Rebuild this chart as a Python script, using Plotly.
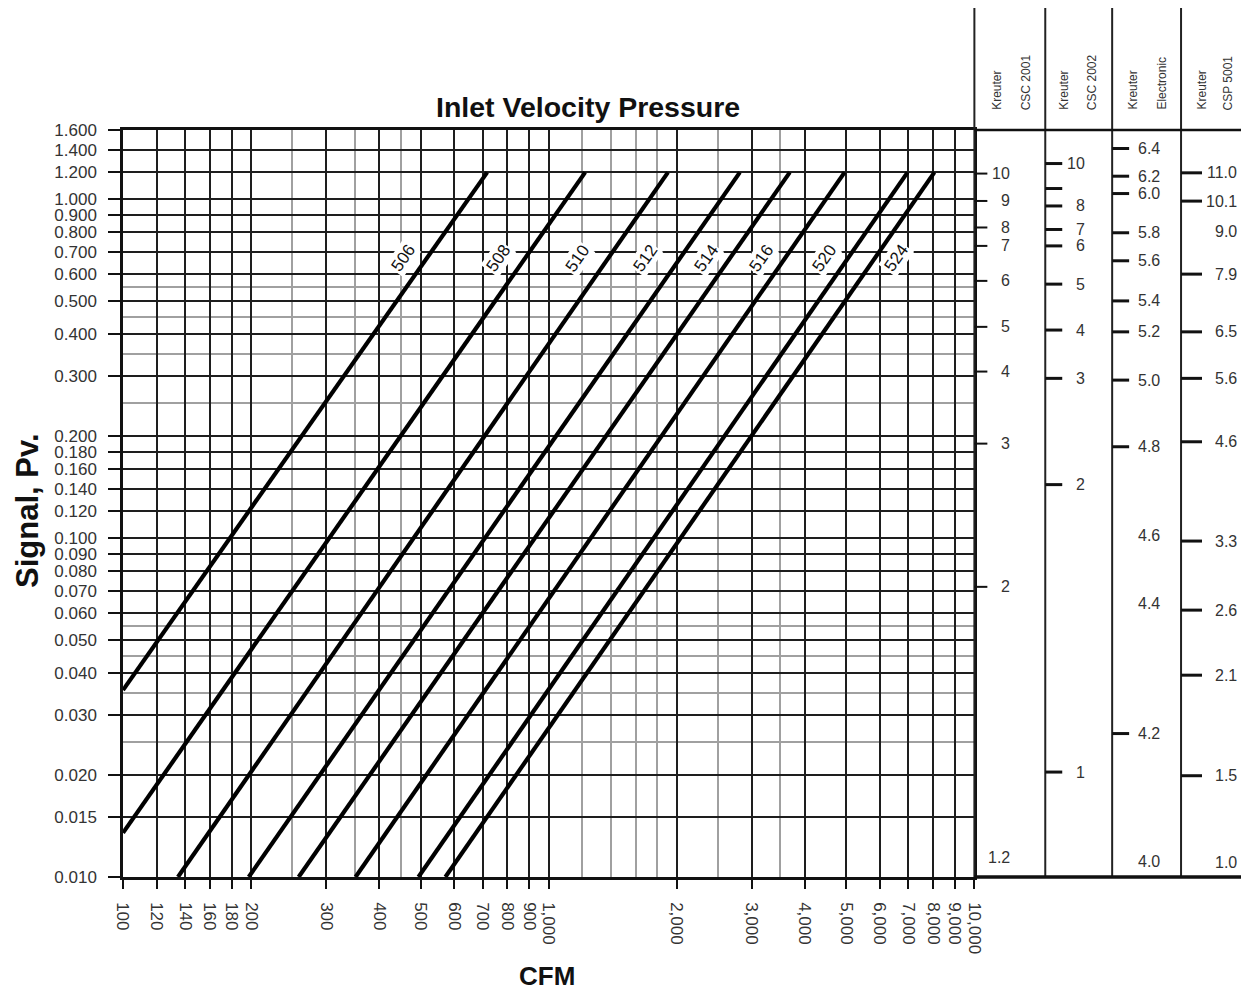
import math
import plotly.graph_objects as go

# ---------------- data ----------------
cfm_tickvals = [100, 120, 140, 160, 180, 200, 300, 400, 500, 600, 700, 800, 900,
                1000, 2000, 3000, 4000, 5000, 6000, 7000, 8000, 9000, 10000]
cfm_ticktext = ["100", "120", "140", "160", "180", "200", "300", "400", "500", "600",
                "700", "800", "900", "1,000", "2,000", "3,000", "4,000", "5,000",
                "6,000", "7,000", "8,000", "9,000", "10,000"]
cfm_minor = [250, 350, 450, 1200, 1400, 1600, 1800, 2500, 3500]

pv_tickvals = [0.010, 0.015, 0.020, 0.030, 0.040, 0.050, 0.060, 0.070, 0.080, 0.090,
               0.100, 0.120, 0.140, 0.160, 0.180, 0.200, 0.300, 0.400, 0.500, 0.600,
               0.700, 0.800, 0.900, 1.000, 1.200, 1.400, 1.600]
pv_ticktext = ["0.010", "0.015", "0.020", "0.030", "0.040", "0.050", "0.060", "0.070",
               "0.080", "0.090", "0.100", "0.120", "0.140", "0.160", "0.180", "0.200",
               "0.300", "0.400", "0.500", "0.600", "0.700", "0.800", "0.900", "1.000",
               "1.200", "1.400", "1.600"]
pv_minor = [0.025, 0.035, 0.045, 0.055, 0.25, 0.35, 0.45, 0.55]

box_sizes = ["506", "508", "510", "512", "514", "516", "520", "524"]
cfm_start = [100, 100, 134.6, 197.4, 258.6, 351.8, 494.3, 571.9]
pv_start = [0.0356, 0.0135, 0.010, 0.010, 0.010, 0.010, 0.010, 0.010]
cfm_end = [717, 1218, 1906, 2812, 3684, 4955, 6966, 8054]
pv_end = [1.2, 1.2, 1.2, 1.2, 1.2, 1.2, 1.2, 1.2]

scale_headers = [("Kreuter", "CSC 2001"), ("Kreuter", "CSC 2002"),
                 ("Kreuter", "Electronic"), ("Kreuter", "CSP 5001")]

csc2001_text = ["10", "9", "8", "7", "6", "5", "4", "3", "2", "1.2"]
csc2001_pv = [1.190, 0.988, 0.825, 0.728, 0.574, 0.420, 0.310, 0.190, 0.0718, 0.0114]
csc2001_tick = [True, True, True, True, True, True, True, True, True, False]

csc2002_text = ["10", "", "8", "7", "6", "5", "4", "3", "2", "1"]
csc2002_pv = [1.274, 1.075, 0.955, 0.814, 0.728, 0.5615, 0.411, 0.296, 0.1438, 0.0204]
csc2002_tick = [True, True, True, True, True, True, True, True, True, True]

electronic_text = ["6.4", "6.2", "6.0", "5.8", "5.6", "5.4", "5.2", "5.0", "4.8",
                   "4.6", "4.4", "4.2", "4.0"]
electronic_pv = [1.411, 1.169, 1.039, 0.796, 0.658, 0.501, 0.406, 0.2925, 0.186,
                 0.1020, 0.0642, 0.0265, 0.0111]
electronic_tick = [True, True, True, True, True, True, True, True, True,
                   False, False, True, False]

csp5001_text = ["11.0", "10.1", "9.0", "7.9", "6.5", "5.6", "4.6", "3.3", "2.6",
                "2.1", "1.5", "1.0"]
csp5001_pv = [1.196, 0.987, 0.801, 0.601, 0.406, 0.296, 0.1924, 0.0980, 0.0613,
              0.0394, 0.0199, 0.0110]
csp5001_tick = [True, True, False, True, True, True, True, True, True, True, True, False]

scales = [(csc2001_text, csc2001_pv, csc2001_tick),
          (csc2002_text, csc2002_pv, csc2002_tick),
          (electronic_text, electronic_pv, electronic_tick),
          (csp5001_text, csp5001_pv, csp5001_tick)]

# ---------------- layout helpers ----------------
OFF = 8                         # browser body margin
SX = 1257 / 1249                # horizontal compensation of the capture
W, H = 1241, 985
PLOT_L, PLOT_T, PLOT_R, PLOT_B = 122, 130, 975, 877   # target pixels of plot area
ML = round(PLOT_L * SX - OFF)
MT = PLOT_T - OFF
MR = 0
MB = H - (PLOT_B - OFF)
FONT = "Liberation Sans, Arial, Helvetica, sans-serif"


def px(x):
    """target x pixel -> paper fraction"""
    return (x * SX - OFF - ML) / (W - ML - MR)


def py(y):
    """target y pixel -> paper fraction"""
    return (PLOT_B - y) / (PLOT_B - PLOT_T)


fig = go.Figure()

# box lines
for name, x0, y0, x1, y1 in zip(box_sizes, cfm_start, pv_start, cfm_end, pv_end):
    fig.add_trace(go.Scatter(x=[x0, x1], y=[y0, y1], mode="lines", name=name,
                             line=dict(color="black", width=4.2),
                             showlegend=False, hoverinfo="skip"))

annotations = []
shapes = []

# line labels (placed beside each line, rotated along it)
label_pv = 0.67
label_shift = [-24, -27, -31, -35, -24, -24, -24, 21]
for name, x0, y0, x1, y1, sh in zip(box_sizes, cfm_start, pv_start, cfm_end, pv_end, label_shift):
    t = (math.log10(label_pv) - math.log10(y0)) / (math.log10(y1) - math.log10(y0))
    lx = math.log10(x0) + t * (math.log10(x1) - math.log10(x0))
    annotations.append(dict(x=lx, y=math.log10(label_pv), xref="x", yref="y",
                            text=name, showarrow=False, textangle=-55,
                            xshift=sh,
                            bgcolor="white", borderpad=1,
                            font=dict(family=FONT, size=17, color="#111")))

# titles
annotations.append(dict(x=px(588), y=py(107), xref="paper", yref="paper",
                        text="<b>Inlet Velocity Pressure</b>", showarrow=False,
                        xanchor="center", yanchor="middle",
                        font=dict(family=FONT, size=28.5, color="#111")))
annotations.append(dict(x=px(26), y=py(511), xref="paper", yref="paper",
                        text="<b>Signal, Pv.</b>", showarrow=False, textangle=-90,
                        xanchor="center", yanchor="middle",
                        font=dict(family=FONT, size=31, color="#111")))
annotations.append(dict(x=px(547), y=py(976), xref="paper", yref="paper",
                        text="<b>CFM</b>", showarrow=False,
                        xanchor="center", yanchor="middle",
                        font=dict(family=FONT, size=26, color="#111")))

# right-hand scale panel
col_edges = [975, 1046, 1113, 1182, 1249]
label_right = [1013, 1088, 1163, 1240]
tick_len = [13, 17, 17, 21]
tick_w = [2, 3, 3, 3]
head_x = [(998, 1027), (1065, 1093), (1134, 1163), (1203, 1230)]
HEAD_TOP = 7

line_style = dict(color="#222", width=2)
for e in col_edges[:-1]:
    shapes.append(dict(type="line", xref="paper", yref="paper",
                       x0=px(e), x1=px(e), y0=0, y1=py(HEAD_TOP), line=line_style))
shapes.append(dict(type="line", xref="paper", yref="paper", x0=px(975), x1=px(1249),
                   y0=py(HEAD_TOP), y1=py(HEAD_TOP), line=line_style))
shapes.append(dict(type="line", xref="paper", yref="paper", x0=px(975), x1=px(1249),
                   y0=1, y1=1, line=dict(color="#111", width=2.5)))
shapes.append(dict(type="line", xref="paper", yref="paper", x0=px(975), x1=px(1249),
                   y0=0, y1=0, line=dict(color="#111", width=3.5)))

for i, (texts, pvs, ticks) in enumerate(scales):
    for txt, pv, tk in zip(texts, pvs, ticks):
        if tk:
            shapes.append(dict(type="line", xref="paper", yref="y",
                               x0=px(col_edges[i]), x1=px(col_edges[i] + tick_len[i]),
                               y0=pv, y1=pv, line=dict(color="#111", width=tick_w[i])))
        if txt:
            annotations.append(dict(x=px(label_right[i]), y=math.log10(pv),
                                    xref="paper", yref="y", text=txt, showarrow=False,
                                    xanchor="right", yanchor="middle",
                                    font=dict(family=FONT, size=16, color="#333")))
    for hx, htxt in zip(head_x[i], scale_headers[i]):
        annotations.append(dict(x=px(hx), y=py(112), xref="paper", yref="paper",
                                text=htxt, showarrow=False, textangle=-90,
                                xanchor="center", yanchor="bottom",
                                font=dict(family=FONT, size=12, color="#333")))

fig.update_layout(
    width=W, height=H,
    margin=dict(l=ML, r=MR, t=MT, b=MB, pad=0),
    paper_bgcolor="white", plot_bgcolor="white",
    showlegend=False,
    annotations=annotations, shapes=shapes,
    xaxis=dict(type="log", range=[2, 4], domain=[0, px(PLOT_R)],
               tickmode="array", tickvals=cfm_tickvals, ticktext=cfm_ticktext,
               tickangle=90, ticks="outside", ticklen=9, tickwidth=1.5, tickcolor="#111",
               ticklabelstandoff=10,
               tickfont=dict(family=FONT, size=17, color="#333"),
               showgrid=True, gridcolor="#1e1e1e", gridwidth=1.6,
               minor=dict(tickmode="array", tickvals=cfm_minor, showgrid=True,
                          gridcolor="#a0a0a0", gridwidth=1.5, ticks=""),
               showline=True, linecolor="#111", linewidth=2.5, mirror=True,
               zeroline=False, fixedrange=True),
    yaxis=dict(type="log", range=[-2, math.log10(1.6)],
               tickmode="array", tickvals=pv_tickvals, ticktext=pv_ticktext,
               ticks="outside", ticklen=12, tickwidth=1.5, tickcolor="#111",
               ticklabelstandoff=8,
               tickfont=dict(family=FONT, size=17, color="#333"),
               showgrid=True, gridcolor="#1e1e1e", gridwidth=1.6,
               minor=dict(tickmode="array", tickvals=pv_minor, showgrid=True,
                          gridcolor="#a0a0a0", gridwidth=1.5, ticks=""),
               showline=True, linecolor="#111", linewidth=2.5, mirror=True,
               zeroline=False, fixedrange=True),
)

fig.write_html("out.html")
